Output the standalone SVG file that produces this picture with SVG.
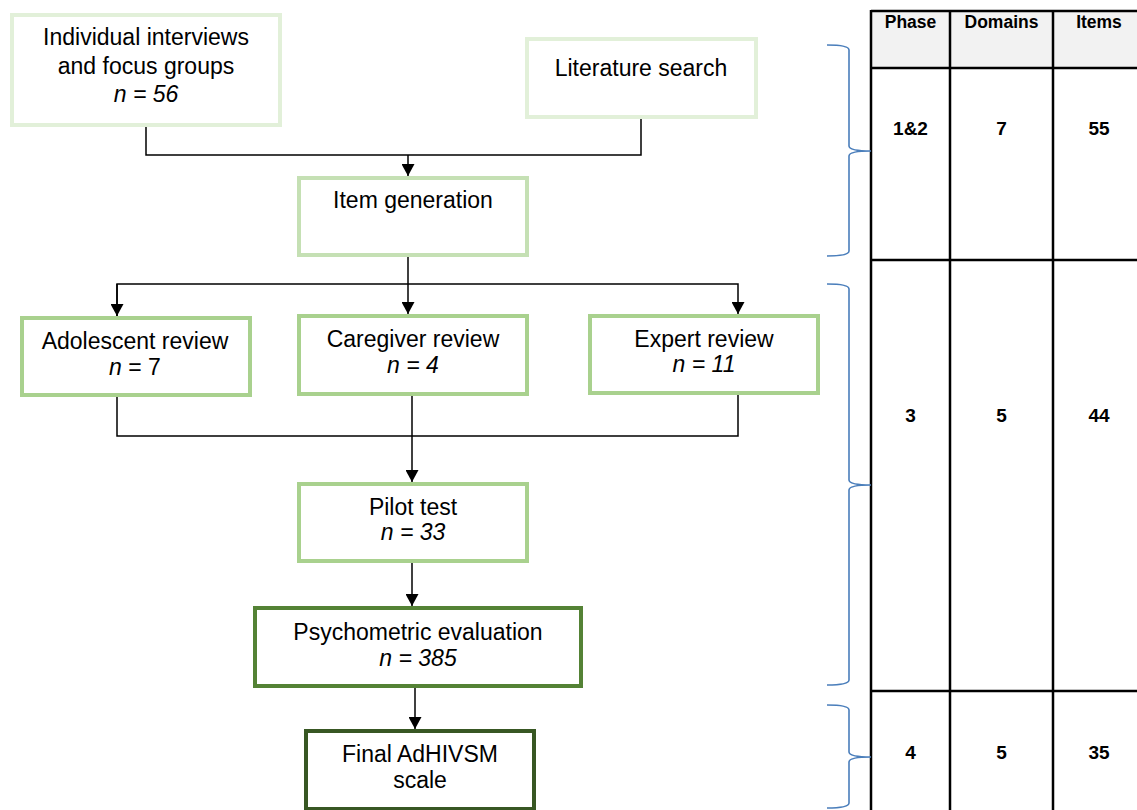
<svg xmlns="http://www.w3.org/2000/svg" width="1137" height="810" viewBox="0 0 1137 810">
<style>
.t{font-family:"Liberation Sans",Arial,sans-serif;font-size:23px;fill:#000;text-anchor:middle}
.i{font-style:italic}
.b{fill:#fff;stroke-width:4}
.c{fill:none;stroke:#000;stroke-width:1.5}
.h{font-family:"Liberation Sans",Arial,sans-serif;font-weight:bold;font-size:17.5px;text-anchor:middle}
.d{font-family:"Liberation Sans",Arial,sans-serif;font-weight:bold;font-size:19px;text-anchor:middle}
.g{fill:none;stroke:#000;stroke-width:2.5}
.br{fill:none;stroke:#4a7ebb;stroke-width:1.6}
</style>
<defs>
<marker id="a" markerWidth="12" markerHeight="13" refX="10" refY="5" orient="auto" markerUnits="userSpaceOnUse" viewBox="0 0 10 10" preserveAspectRatio="none">
<path d="M0,0 L10,5 L0,10 z" fill="#000"/>
</marker>
</defs>
<rect width="1137" height="810" fill="#fff"/>
<g id="connectors">
<polyline class="c" points="146,127 146,155 641,155 641,119"/>
<line class="c" x1="408" y1="155" x2="408" y2="176" marker-end="url(#a)"/>
<line class="c" x1="408" y1="257" x2="408" y2="314" marker-end="url(#a)"/>
<polyline class="c" points="117,316 117,284 738,284 738,314" marker-end="url(#a)"/>
<line class="c" x1="117" y1="284" x2="117" y2="316" marker-end="url(#a)"/>
<polyline class="c" points="117,397 117,436 738,436 738,395"/>
<line class="c" x1="412" y1="396" x2="412" y2="482" marker-end="url(#a)"/>
<line class="c" x1="412" y1="563" x2="412" y2="606" marker-end="url(#a)"/>
<line class="c" x1="415" y1="688" x2="415" y2="729" marker-end="url(#a)"/>
</g>
<g id="n1">
<rect class="b" x="12" y="15" width="268" height="110" stroke="#e2f0d9"/>
<text class="t" x="146" y="45">Individual interviews</text>
<text class="t" x="146" y="74">and focus groups</text>
<text class="t i" x="146" y="102">n = 56</text>
</g>
<g id="n2">
<rect class="b" x="527" y="39" width="229" height="78" stroke="#e2f0d9"/>
<text class="t" x="641" y="76">Literature search</text>
</g>
<g id="n3">
<rect class="b" x="299" y="178" width="228" height="77" stroke="#c5e0b4"/>
<text class="t" x="413" y="208">Item generation</text>
</g>
<g id="n4">
<rect class="b" x="22" y="318" width="228" height="77" stroke="#a9d18e"/>
<text class="t" x="135" y="349">Adolescent review</text>
<text class="t" x="135" y="375"><tspan class="i">n</tspan> = 7</text>
</g>
<g id="n5">
<rect class="b" x="299" y="316" width="228" height="78" stroke="#a9d18e"/>
<text class="t" x="413" y="347">Caregiver review</text>
<text class="t i" x="413" y="373">n = 4</text>
</g>
<g id="n6">
<rect class="b" x="590" y="316" width="228" height="77" stroke="#a9d18e"/>
<text class="t" x="704" y="347">Expert review</text>
<text class="t i" x="704" y="372">n = 11</text>
</g>
<g id="n7">
<rect class="b" x="299" y="484" width="228" height="77" stroke="#a9d18e"/>
<text class="t" x="413" y="515">Pilot test</text>
<text class="t i" x="413" y="540">n = 33</text>
</g>
<g id="n8">
<rect class="b" x="255" y="608" width="326" height="78" stroke="#548235"/>
<text class="t" x="418" y="640">Psychometric evaluation</text>
<text class="t i" x="418" y="666">n = 385</text>
</g>
<g id="n9">
<rect class="b" x="306" y="731" width="228" height="78" stroke="#385723"/>
<text class="t" x="420" y="762">Final AdHIVSM</text>
<text class="t" x="420" y="788">scale</text>
</g>
<g id="table">
<rect x="871" y="11" width="280" height="57" fill="#f2f2f2"/>
<line class="g" x1="871" y1="11" x2="1140" y2="11"/>
<line class="g" x1="871" y1="68" x2="1140" y2="68"/>
<line class="g" x1="871" y1="260" x2="1140" y2="260"/>
<line class="g" x1="871" y1="691" x2="1140" y2="691"/>
<line class="g" x1="871" y1="10" x2="871" y2="810"/>
<line class="g" x1="950" y1="10" x2="950" y2="810"/>
<line class="g" x1="1053" y1="10" x2="1053" y2="810"/>
<text class="h" x="910.5" y="28">Phase</text>
<text class="h" x="1001.5" y="28">Domains</text>
<text class="h" x="1099" y="28">Items</text>
<text class="d" x="910.5" y="135">1&amp;2</text>
<text class="d" x="1001.5" y="135">7</text>
<text class="d" x="1099" y="135">55</text>
<text class="d" x="910.5" y="422">3</text>
<text class="d" x="1001.5" y="422">5</text>
<text class="d" x="1099" y="422">44</text>
<text class="d" x="910.5" y="759">4</text>
<text class="d" x="1001.5" y="759">5</text>
<text class="d" x="1099" y="759">35</text>
</g>
<g id="braces">
<path class="br" d="M827,45 Q849,45 849,50 L849,146 Q849,151 871,151 Q849,151 849,156 L849,251 Q849,256 827,256"/>
<path class="br" d="M827,284 Q849,284 849,289 L849,480 Q849,485 871,485 Q849,485 849,490 L849,680 Q849,685 827,685"/>
<path class="br" d="M827,705 Q849,705 849,710 L849,752 Q849,757 871,757 Q849,757 849,762 L849,803 Q849,808 827,808"/>
</g>
</svg>
